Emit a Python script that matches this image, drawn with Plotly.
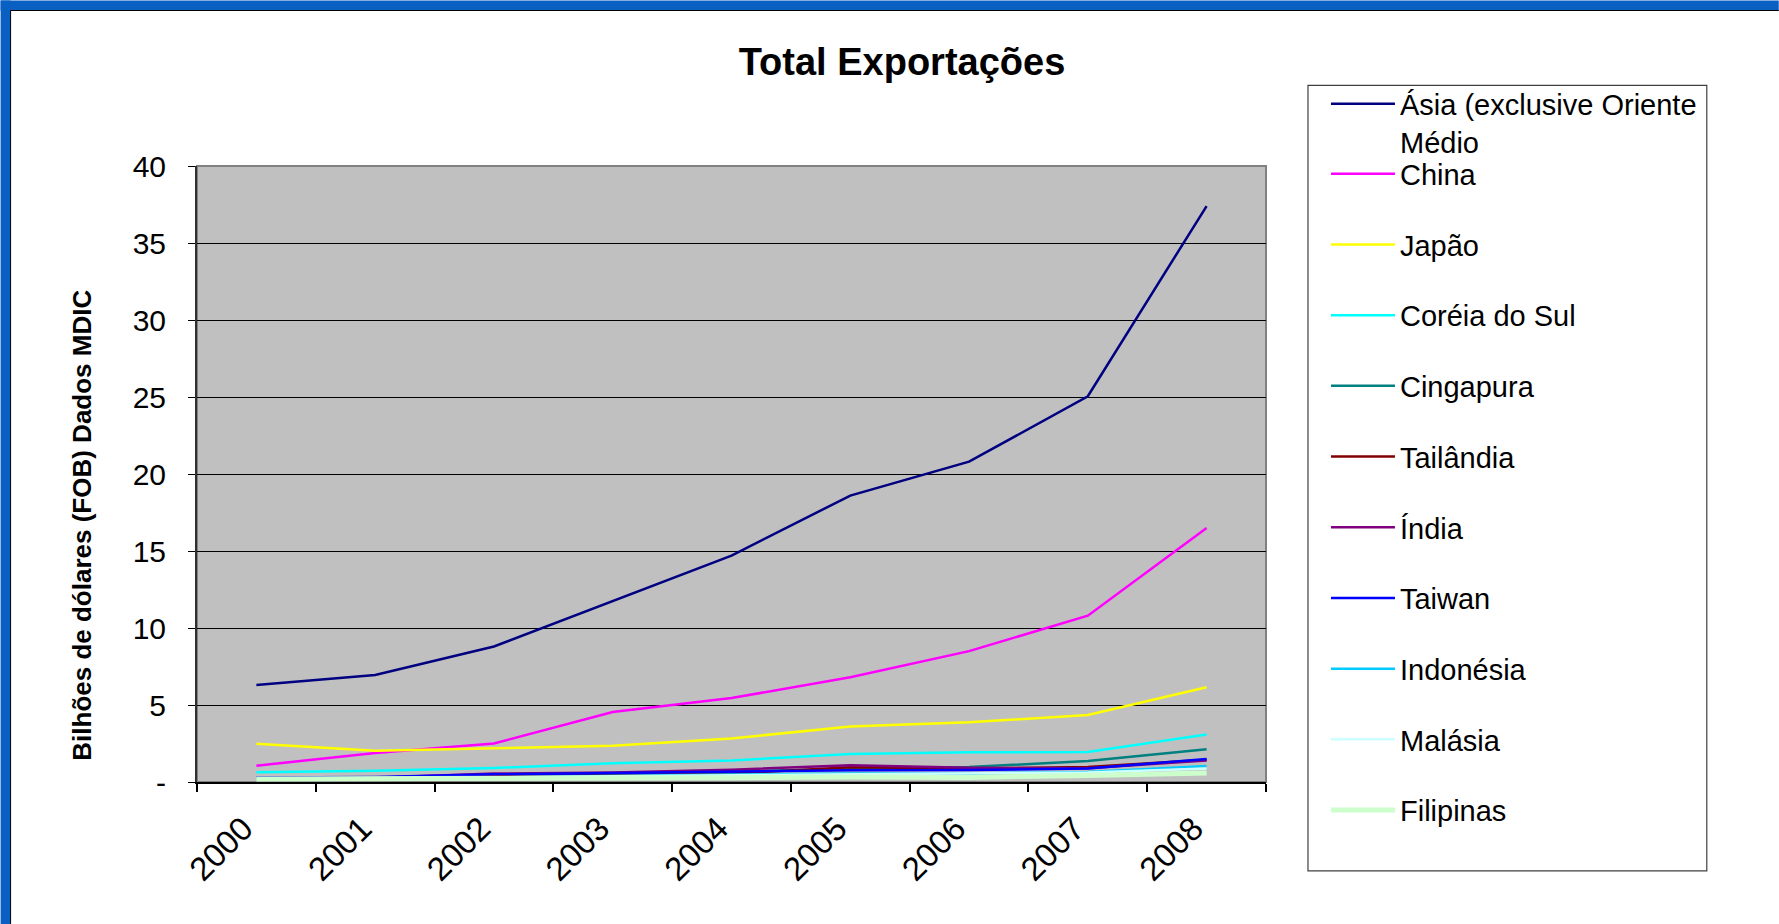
import plotly.graph_objects as go

# ---------------- data ----------------
years = ["2000", "2001", "2002", "2003", "2004", "2005", "2006", "2007", "2008"]

asia = [6.3, 6.95, 8.8, 11.75, 14.7, 18.6, 20.8, 25.05, 37.4]
china = [1.06, 1.88, 2.5, 4.55, 5.45, 6.8, 8.5, 10.8, 16.5]
japao = [2.48, 2.03, 2.19, 2.35, 2.83, 3.6, 3.88, 4.35, 6.15]
coreia = [0.63, 0.73, 0.91, 1.21, 1.4, 1.82, 1.93, 1.95, 3.08]
cingapura = [0.25, 0.28, 0.42, 0.52, 0.7, 0.85, 0.97, 1.36, 2.12]
tailandia = [0.22, 0.25, 0.4, 0.43, 0.55, 0.95, 0.87, 0.97, 1.45]
india = [0.25, 0.28, 0.55, 0.62, 0.8, 1.08, 0.92, 0.9, 1.4]
taiwan = [0.3, 0.32, 0.5, 0.58, 0.68, 0.76, 0.78, 0.87, 1.5]
indonesia = [0.2, 0.22, 0.3, 0.4, 0.48, 0.55, 0.56, 0.65, 1.04]
malasia = [0.22, 0.25, 0.3, 0.38, 0.45, 0.5, 0.55, 0.62, 0.87]
filipinas = [0.19, 0.2, 0.2, 0.22, 0.28, 0.32, 0.3, 0.43, 0.58]

names = ["Ásia (exclusive Oriente<br>Médio", "China", "Japão", "Coréia do Sul", "Cingapura",
         "Tailândia", "Índia", "Taiwan", "Indonésia", "Malásia", "Filipinas"]
series = [asia, china, japao, coreia, cingapura, tailandia, india, taiwan, indonesia, malasia, filipinas]
colors = ["#000080", "#FF00FF", "#FFFF00", "#00FFFF", "#008080", "#800000",
          "#800080", "#0000FF", "#00CCFF", "#CCFFFF", "#CCFFCC"]
widths = [2.5, 2.5, 2.5, 2.5, 2.5, 2.5, 2.5, 2.5, 2.5, 2.5, 5]

y_tickvals = [0, 5, 10, 15, 20, 25, 30, 35, 40]
y_ticktext = ["-", "5", "10", "15", "20", "25", "30", "35", "40"]

title_text = "<b>Total Exportações</b>"
y_title = "<b>Bilhões de dólares (FOB) Dados MDIC</b>"

# ---------------- figure ----------------
W, H = 1779, 924
L, R, T, B = 196.5, 1266, 165.6, 782  # plot area in px


def px_x(px):
    return (px - L) / (R - L)


def px_y(py):
    return (B - py) / (B - T)


FONT = "Liberation Sans, Arial, sans-serif"

fig = go.Figure()
for i, (nm, ys, c, w) in enumerate(zip(names, series, colors, widths)):
    fig.add_trace(go.Scatter(
        x=years, y=ys, name=nm, mode="lines",
        line=dict(color=c, width=w),
        legend="legend" if i == 0 else "legend2",
        legendgroup="g%d" % i,
    ))

shapes = [
    # blue frame strips (top and left)
    dict(type="rect", xref="paper", yref="paper", x0=px_x(0), x1=px_x(W), y0=px_y(0), y1=px_y(10),
         fillcolor="#0A5FC2", line=dict(width=0), layer="below"),
    dict(type="rect", xref="paper", yref="paper", x0=px_x(0), x1=px_x(10), y0=px_y(0), y1=px_y(H),
         fillcolor="#0A5FC2", line=dict(width=0), layer="below"),
    dict(type="line", xref="paper", yref="paper", x0=px_x(10), x1=px_x(W), y0=px_y(10), y1=px_y(10),
         line=dict(color="#000000", width=1)),
    dict(type="line", xref="paper", yref="paper", x0=px_x(10), x1=px_x(10), y0=px_y(10), y1=px_y(H),
         line=dict(color="#000000", width=1)),
    # plot area border (top/right gray)
    dict(type="rect", xref="x domain", yref="y domain", x0=0, x1=1, y0=0, y1=1,
         line=dict(color="#808080", width=2), layer="below"),
    # legend box
    dict(type="rect", xref="paper", yref="paper", x0=px_x(1308), x1=px_x(1707), y0=px_y(85), y1=px_y(871),
         line=dict(color="#404040", width=1.2), fillcolor="rgba(0,0,0,0)"),
]

fig.update_layout(
    width=W, height=H,
    margin=dict(l=L, r=W - R, t=T, b=H - B),
    paper_bgcolor="#FFFFFF",
    plot_bgcolor="#C0C0C0",
    font=dict(family=FONT, color="#000000", size=29),
    title=dict(text=title_text, x=902 / W, xref="container", xanchor="center",
               y=1 - 62 / H, yref="container", yanchor="middle",
               font=dict(size=38, family=FONT, color="#000000")),
    showlegend=True,
    legend=dict(x=px_x(1326), xanchor="left", y=px_y(78), yanchor="top",
                bgcolor="rgba(0,0,0,0)", borderwidth=0, valign="top",
                font=dict(size=29, family=FONT), itemwidth=64, maxheight=200,
                itemclick=False, itemdoubleclick=False),
    legend2=dict(x=px_x(1326), xanchor="left", y=px_y(148), yanchor="top",
                 bgcolor="rgba(0,0,0,0)", borderwidth=0, traceorder="grouped",
                 tracegroupgap=30, font=dict(size=29, family=FONT), itemwidth=64,
                 maxheight=900, itemclick=False, itemdoubleclick=False),
    shapes=shapes,
    annotations=[dict(text=y_title, textangle=-90, xref="paper", yref="paper",
                      x=px_x(82), y=px_y(525), xanchor="center", yanchor="middle",
                      showarrow=False, font=dict(size=26, family=FONT, color="#000000"))],
)

fig.update_xaxes(
    type="category", range=[-0.5, 8.5], tickson="boundaries", ticks="outside", ticklen=8,
    tickwidth=1.5, tickcolor="#000000", showline=True, linecolor="#000000", linewidth=2,
    showgrid=False, tickangle=-45, ticklabelstandoff=12, ticklabelshift=-13,
    tickfont=dict(size=33, family=FONT), zeroline=False,
)
fig.update_yaxes(
    range=[0, 40], tickvals=y_tickvals, ticktext=y_ticktext, ticks="outside", ticklen=7,
    tickcolor="#000000", tickwidth=1.2, showline=True, linecolor="#303030", linewidth=2,
    showgrid=True, gridcolor="#000000", gridwidth=1, zeroline=False,
    ticklabelstandoff=16, tickfont=dict(size=30, family=FONT),
)

fig.write_html("out.html", config={"displayModeBar": False},
               post_script="document.body.style.margin='0';document.body.style.overflow='hidden';")
